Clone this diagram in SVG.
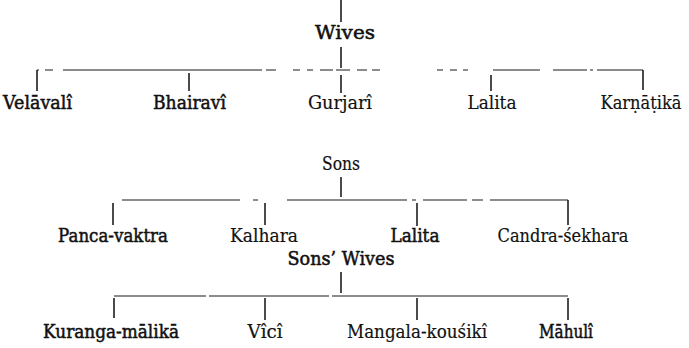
<svg xmlns="http://www.w3.org/2000/svg" width="689" height="348" viewBox="0 0 689 348">
<style>
.t{font-family:"DejaVu Serif","Liberation Serif",serif;font-size:19px;fill:#111;stroke:#111;stroke-width:0.2;text-anchor:middle}
.b{stroke-width:0.55}
.ln{stroke:#1a1a1a;stroke-width:1.2;fill:none}
.tk{stroke:#111;stroke-width:1.5;fill:none}
</style>
<rect width="689" height="348" fill="#fff"/>
<g id="connectors">
  <path class="tk" d="M341 0V22M341 47V68M37 70V91M189 73V91M341 75V93M491 75V91M643 70V90"/>
  <path class="ln" d="M37 70H39M45 70H53M63 70H262M266 70H276M293 70H300M307 70H313M320 70H333M336 70H350M357 70H367M372 70H380M437 70H443M450 70H457M463 70H468M493 70H540M553 70H587M590 70H593M597 70H643"/>
  <path class="tk" d="M341 177V197M113 203V225M265 203V225M417 203V226M568 200V225"/>
  <path class="ln" d="M122 200H240M253 200H258M287 200H407M412 200H416M423 200H467M472 200H483M490 200H568"/>
  <path class="tk" d="M341 272V293M114 298V318M265 298V320M417 298V320M568 298V320"/>
  <path class="ln" d="M114 296H206M209 296H329M332 296H568"/>
</g>
<g id="wives"><text class="t b" x="345" y="39" textLength="60" lengthAdjust="spacingAndGlyphs">Wives</text></g>
<g id="velavali"><text class="t b" x="37.5" y="109" textLength="69" lengthAdjust="spacingAndGlyphs">Velāvalî</text></g>
<g id="bhairavi"><text class="t b" x="189.5" y="109" textLength="73" lengthAdjust="spacingAndGlyphs">Bhairavî</text></g>
<g id="gurjari"><text class="t" x="340" y="109" textLength="64" lengthAdjust="spacingAndGlyphs">Gurjarî</text></g>
<g id="lalita1"><text class="t" x="492" y="109" textLength="49" lengthAdjust="spacingAndGlyphs">Lalita</text></g>
<g id="karnatika"><text class="t" x="641" y="109" font-size="18" textLength="81" lengthAdjust="spacingAndGlyphs">Karṇāṭikā</text></g>
<g id="sons"><text class="t" x="341" y="170" textLength="38" lengthAdjust="spacingAndGlyphs">Sons</text></g>
<g id="panca-vaktra"><text class="t b" x="113" y="242" textLength="110" lengthAdjust="spacingAndGlyphs">Panca-vaktra</text></g>
<g id="kalhara"><text class="t" x="264" y="242" textLength="68" lengthAdjust="spacingAndGlyphs">Kalhara</text></g>
<g id="lalita2"><text class="t b" x="415" y="242" textLength="49" lengthAdjust="spacingAndGlyphs">Lalita</text></g>
<g id="candra-sekhara"><text class="t" x="563" y="242" textLength="131" lengthAdjust="spacingAndGlyphs">Candra-śekhara</text></g>
<g id="sons-wives"><text class="t b" x="341" y="265" textLength="107" lengthAdjust="spacingAndGlyphs">Sons’ Wives</text></g>
<g id="kuranga-malika"><text class="t b" x="111" y="338" textLength="136" lengthAdjust="spacingAndGlyphs">Kuranga-mālikā</text></g>
<g id="vici"><text class="t" x="265" y="338" textLength="35" lengthAdjust="spacingAndGlyphs">Vîcî</text></g>
<g id="mangala-kousiki"><text class="t" x="417" y="338" textLength="140" lengthAdjust="spacingAndGlyphs">Mangala-kouśikî</text></g>
<g id="mahuli"><text class="t b" x="566" y="338" textLength="54" lengthAdjust="spacingAndGlyphs">Māhulî</text></g>
</svg>
